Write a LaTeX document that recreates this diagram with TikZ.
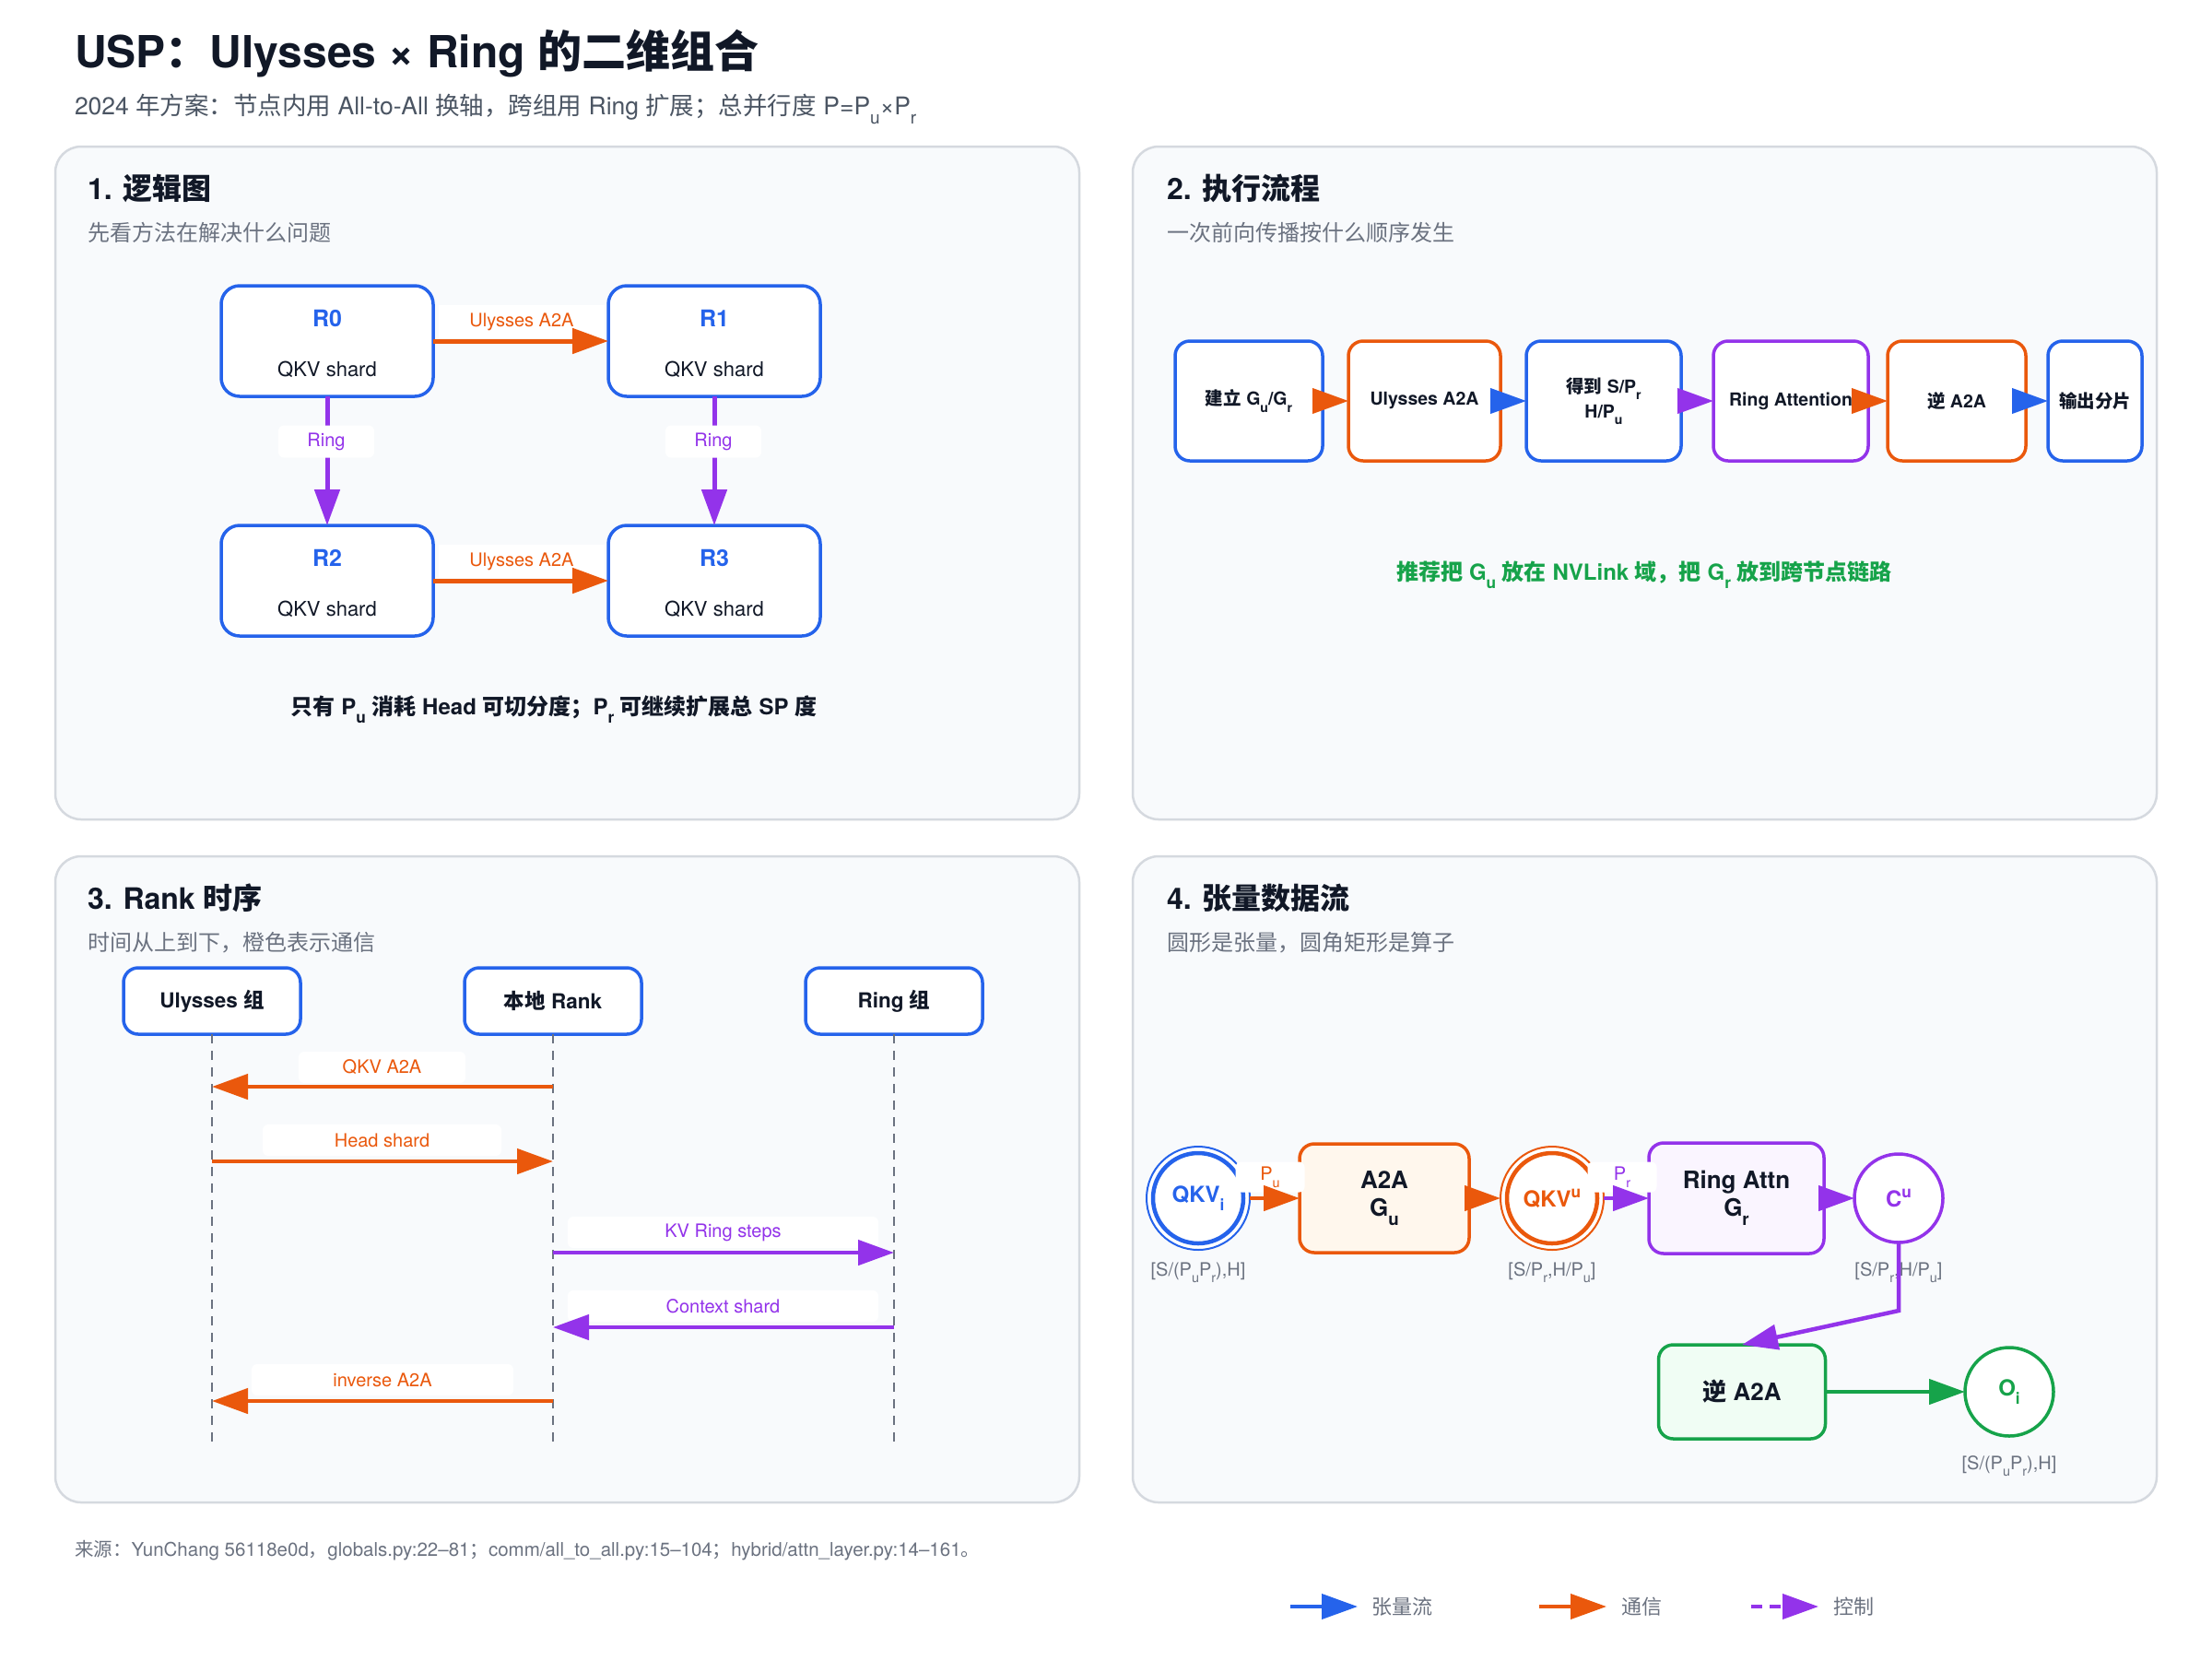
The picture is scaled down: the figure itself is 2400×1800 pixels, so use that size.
\documentclass[tikz,border=0pt]{standalone}
\usepackage{fontspec}
\usepackage{graphicx}
\setmainfont{TeX Gyre Heros}
\newfontfamily\cjkfont{Noto Sans CJK SC}
\usetikzlibrary{arrows.meta}
% automatic switch to the CJK font for CJK characters
\XeTeXinterchartokenstate=1
\newXeTeXintercharclass\CJKcls
\newcount\cjkn
\newcommand\setcjkrange[2]{\cjkn=#1\relax\loop\XeTeXcharclass\cjkn=\CJKcls\relax\ifnum\cjkn<#2\advance\cjkn by 1\repeat}
\setcjkrange{"3000}{"303F}
\setcjkrange{"4E00}{"9FFF}
\setcjkrange{"FF00}{"FFEF}
\XeTeXinterchartoks 0 \CJKcls = {\begingroup\cjkfont}
\XeTeXinterchartoks 4095 \CJKcls = {\begingroup\cjkfont}
\XeTeXinterchartoks \CJKcls 0 = {\endgroup}
\XeTeXinterchartoks \CJKcls 4095 = {\endgroup}
\newcommand\fsz[2]{\fontsize{#1}{#2}\selectfont}
\newcommand\dn[1]{\raisebox{-0.38em}{\scalebox{0.72}{#1}}}
\newcommand\upr[1]{\raisebox{0.42em}{\scalebox{0.72}{#1}}}
\definecolor{cblue}{HTML}{2563EB}
\definecolor{corange}{HTML}{EA580C}
\definecolor{cpurple}{HTML}{9333EA}
\definecolor{cgreen}{HTML}{16A34A}
\definecolor{ctext}{HTML}{111827}
\definecolor{cgray}{HTML}{6B7280}
\definecolor{csub}{HTML}{4B5563}
\definecolor{cpanel}{HTML}{F8FAFC}
\definecolor{cborder}{HTML}{D5D9DF}
\definecolor{cofill}{HTML}{FFF7ED}
\definecolor{cpfill}{HTML}{FAF5FF}
\definecolor{cgfill}{HTML}{F0FDF4}
\tikzset{
 >={Triangle[length=39pt,width=27pt]},
 every node/.style={inner sep=0pt, outer sep=0pt, text=ctext},
 panel/.style={draw=cborder, fill=cpanel, line width=2.5pt, rounded corners=28pt},
 ptitle/.style={anchor=base west, font=\fsz{32}{38}\bfseries, text=ctext},
 psub/.style={anchor=base west, font=\fsz{24}{28}, text=cgray},
 rbox/.style={draw=cblue, fill=white, line width=3.5pt, rounded corners=20pt, minimum width=230pt, minimum height=120pt},
 rname/.style={anchor=base, font=\fsz{25}{30}\bfseries, text=cblue},
 rtext/.style={anchor=base, font=\fsz{22}{26}, text=ctext},
 commline/.style={draw=corange, line width=5pt, ->},
 ringline/.style={draw=cpurple, line width=5pt, ->},
 elabel/.style={fill=white, font=\fsz{20}{24}, rounded corners=6pt},
 fbox/.style={fill=white, line width=3.5pt, rounded corners=16pt, minimum height=130pt, font=\fsz{19.5}{27}\bfseries, align=center, text=ctext},
 farrow/.style={line width=4pt, ->},
 actor/.style={draw=cblue, fill=white, line width=3.5pt, rounded corners=16pt, minimum width=192pt, minimum height=72pt, font=\fsz{22.5}{26}\bfseries, text=ctext},
 lifeline/.style={draw=cgray, line width=2pt, dash pattern=on 10pt off 8pt},
 msg/.style={line width=4.5pt, ->},
 mlabel/.style={fill=white, rounded corners=6pt, minimum height=34pt, font=\fsz{20}{24}},
 tensor/.style={circle, fill=white, font=\fsz{24}{28}\bfseries},
 opbox/.style={line width=3.5pt, rounded corners=16pt, font=\fsz{26}{30}\bfseries, align=center, text=ctext},
 dimlabel/.style={anchor=base, font=\fsz{20}{24}, text=cgray},
 dflow/.style={line width=4.5pt, ->},
 legtext/.style={anchor=west, font=\fsz{22}{26}, text=cgray},
}
\begin{document}
\begin{tikzpicture}[x=1pt,y=-1pt]
\useasboundingbox (0,0) rectangle (2400,1800);
\fill[white] (0,0) rectangle (2400,1800);

% ---------- header ----------
\node[anchor=base west, font=\fsz{48}{54}\bfseries, text=ctext] (title) at (81,73) {USP：Ulysses × Ring 的二维组合};
\node[anchor=base west, font=\fsz{26.5}{30}, text=csub] (subtitle) at (81,124) {2024 年方案：节点内用 All-to-All 换轴，跨组用 Ring 扩展；总并行度 P=P\dn{u}×P\dn{r}};

% ---------- panels ----------
\draw[panel] (60,159) rectangle (1171,889);
\draw[panel] (1229,159) rectangle (2340,889);
\draw[panel] (60,929) rectangle (1171,1630);
\draw[panel] (1229,929) rectangle (2340,1630);

% ---------- panel 1 ----------
\node[ptitle] (t1) at (95,216) {1. 逻辑图};
\node[psub] (s1) at (95,261) {先看方法在解决什么问题};

\node[rbox] (r0) at (355,370) {};
\node[rbox] (r1) at (775,370) {};
\node[rbox] (r2) at (355,630) {};
\node[rbox] (r3) at (775,630) {};
\node[rname] (r0n) at (355,354) {R0};
\node[rtext] (r0t) at (355,408) {QKV shard};
\node[rname] (r1n) at (775,354) {R1};
\node[rtext] (r1t) at (775,408) {QKV shard};
\node[rname] (r2n) at (355,614) {R2};
\node[rtext] (r2t) at (355,668) {QKV shard};
\node[rname] (r3n) at (775,614) {R3};
\node[rtext] (r3t) at (775,668) {QKV shard};

\node[elabel, text=corange, minimum width=180pt, minimum height=36pt, rounded corners=0pt] (l01) at (566,349) {Ulysses A2A};
\node[elabel, text=corange, minimum width=180pt, minimum height=36pt, rounded corners=0pt] (l23) at (566,609) {Ulysses A2A};
\draw[commline] (r0) -- (r1);
\draw[commline] (r2) -- (r3);
\draw[ringline] (r0) -- (r2);
\draw[ringline] (r1) -- (r3);
\node[elabel, text=cpurple, minimum width=104pt, minimum height=35pt] (l02) at (354,479) {Ring};
\node[elabel, text=cpurple, minimum width=104pt, minimum height=35pt] (l13) at (774,479) {Ring};

\node[anchor=base, font=\fsz{24}{28}\bfseries, text=ctext] (note1) at (601,775) {只有 P\dn{u} 消耗 Head 可切分度；P\dn{r} 可继续扩展总 SP 度};

% ---------- panel 2 ----------
\node[ptitle] (t2) at (1266,216) {2. 执行流程};
\node[psub] (s2) at (1266,261) {一次前向传播按什么顺序发生};

\node[fbox, draw=cblue, minimum width=160pt] (f1) at (1355,435) {建立 G\dn{u}/G\dn{r}};
\node[fbox, draw=corange, minimum width=165pt] (f2) at (1545.5,435) {Ulysses A2A};
\node[fbox, draw=cblue, minimum width=168pt] (f3) at (1740,435) {得到 S/P\dn{r}\\H/P\dn{u}};
\node[fbox, draw=cpurple, minimum width=168pt] (f4) at (1943,435) {Ring Attention};
\node[fbox, draw=corange, minimum width=150pt] (f5) at (2123,435) {逆 A2A};
\node[fbox, draw=cblue, minimum width=102pt] (f6) at (2273,435) {输出分片};
\draw[farrow, draw=corange] (f1) -- (f2);
\draw[farrow, draw=cblue] (f2) -- (f3);
\draw[farrow, draw=cpurple] (f3) -- (f4);
\draw[farrow, draw=corange] (f4) -- (f5);
\draw[farrow, draw=cblue] (f5) -- (f6);

\node[anchor=base, font=\fsz{24}{28}\bfseries, text=cgreen] (note2) at (1784,629) {推荐把 G\dn{u} 放在 NVLink 域，把 G\dn{r} 放到跨节点链路};

% ---------- panel 3 ----------
\node[ptitle] (t3) at (95,986) {3. Rank 时序};
\node[psub] (s3) at (95,1031) {时间从上到下，橙色表示通信};

\node[actor] (a1) at (230,1086) {Ulysses 组};
\node[actor] (a2) at (600,1086) {本地 Rank};
\node[actor] (a3) at (970,1086) {Ring 组};
\coordinate (a1e) at (230,1569);
\coordinate (a2e) at (600,1569);
\coordinate (a3e) at (970,1569);
\draw[lifeline] (a1.south) -- (a1e);
\draw[lifeline] (a2.south) -- (a2e);
\draw[lifeline] (a3.south) -- (a3e);

\coordinate (m1a) at (600,1179); \coordinate (m1b) at (230,1179);
\coordinate (m2a) at (230,1260); \coordinate (m2b) at (600,1260);
\coordinate (m3a) at (600,1359); \coordinate (m3b) at (970,1359);
\coordinate (m4a) at (970,1440); \coordinate (m4b) at (600,1440);
\coordinate (m5a) at (600,1520); \coordinate (m5b) at (230,1520);

\node[mlabel, text=corange, minimum width=181pt] (ml1) at (414.5,1158) {QKV A2A};
\node[mlabel, text=corange, minimum width=259pt] (ml2) at (414.5,1237) {Head shard};
\node[mlabel, text=cpurple, minimum width=337pt] (ml3) at (784.5,1337) {KV Ring steps};
\node[mlabel, text=cpurple, minimum width=337pt] (ml4) at (784.5,1417) {Context shard};
\node[mlabel, text=corange, minimum width=284pt] (ml5) at (415,1497) {inverse A2A};

\draw[msg, draw=corange] (m1a) -- (m1b);
\draw[msg, draw=corange] (m2a) -- (m2b);
\draw[msg, draw=cpurple] (m3a) -- (m3b);
\draw[msg, draw=cpurple] (m4a) -- (m4b);
\draw[msg, draw=corange] (m5a) -- (m5b);

% ---------- panel 4 ----------
\node[ptitle] (t4) at (1266,986) {4. 张量数据流};
\node[psub] (s4) at (1266,1031) {圆形是张量，圆角矩形是算子};

\node[tensor, draw=cblue, line width=2pt, minimum size=112pt, text=cblue] (qkvi) at (1300,1300) {QKV\dn{i}};
\draw[cblue, line width=4.5pt] (qkvi.center) circle[radius=49pt];
\node[opbox, draw=corange, fill=cofill, minimum width=184pt, minimum height=118pt] (a2a) at (1502,1300) {A2A\\G\dn{u}};
\node[tensor, draw=corange, line width=2pt, minimum size=112pt, text=corange] (qkvu) at (1684,1300) {QKV\upr{u}};
\draw[corange, line width=4.5pt] (qkvu.center) circle[radius=49pt];
\node[opbox, draw=cpurple, fill=cpfill, minimum width=190pt, minimum height=120pt] (ra) at (1884,1300) {Ring Attn\\G\dn{r}};
\node[tensor, draw=cpurple, line width=3.5pt, minimum size=96pt, text=cpurple] (cu) at (2060,1300) {C\upr{u}};
\node[opbox, draw=cgreen, fill=cgfill, minimum width=181pt, minimum height=102pt] (ina) at (1890,1510) {逆 A2A};
\node[tensor, draw=cgreen, line width=3.5pt, minimum size=96pt, text=cgreen] (oi) at (2180,1510) {O\dn{i}};

\node[dimlabel] (d1) at (1300,1384) {[S/(P\dn{u}P\dn{r}),H]};
\node[dimlabel] (d2) at (1684,1384) {[S/P\dn{r},H/P\dn{u}]};
\node[dimlabel] (d3) at (2060,1384) {[S/P\dn{r},H/P\dn{u}]};
\node[dimlabel] (d4) at (2180,1594) {[S/(P\dn{u}P\dn{r}),H]};

\node[elabel, text=corange, minimum width=75pt, minimum height=33pt] (pu) at (1378,1277) {P\dn{u}};
\node[elabel, text=cpurple, minimum width=75pt, minimum height=33pt] (pr) at (1760,1277) {P\dn{r}};
\draw[dflow, draw=corange] (qkvi) -- (a2a);
\draw[dflow, draw=corange] (a2a) -- (qkvu);
\draw[dflow, draw=cpurple] (qkvu) -- (ra);
\draw[dflow, draw=cpurple] (ra) -- (cu);
\coordinate (cbend) at (2060,1422);
\draw[dflow, draw=cpurple] (cu.south) -- (cbend) -- (ina.north);
\draw[dflow, draw=cgreen] (ina) -- (oi);

% ---------- footer ----------
\node[anchor=base west, font=\fsz{20.5}{24}, text=cgray] (src) at (81,1688) {来源：YunChang 56118e0d，globals.py:22–81；comm/all\_to\_all.py:15–104；hybrid/attn\_layer.py:14–161。};

% ---------- legend ----------
\coordinate (lga) at (1400,1743); \coordinate (lgb) at (1473,1743);
\coordinate (lgc) at (1670,1743); \coordinate (lgd) at (1743,1743);
\coordinate (lge) at (1900,1743); \coordinate (lgf) at (1973,1743);
\draw[line width=4pt, draw=cblue, ->] (lga) -- (lgb);
\draw[line width=4pt, draw=corange, ->] (lgc) -- (lgd);
\draw[line width=4pt, draw=cpurple, dash pattern=on 12pt off 8pt, ->] (lge) -- (lgf);
\node[legtext] (lg1) at (1488,1743) {张量流};
\node[legtext] (lg2) at (1759,1743) {通信};
\node[legtext] (lg3) at (1989,1743) {控制};
\end{tikzpicture}
\end{document}
